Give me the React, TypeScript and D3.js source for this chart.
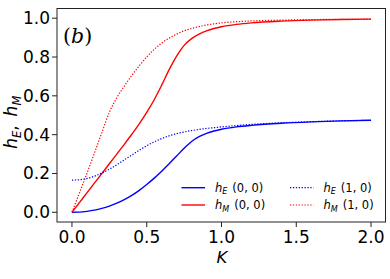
import React from "react";
import * as d3 from "d3";

const K = [0, 0.05, 0.1, 0.15, 0.2, 0.25, 0.3, 0.35, 0.4, 0.45, 0.5, 0.55, 0.6, 0.65, 0.7, 0.75, 0.8, 0.85, 0.9, 0.95, 1.0, 1.1, 1.2, 1.4, 1.6, 1.8, 2.0];
const hE00 = [0, 0.001, 0.005, 0.011, 0.02, 0.032, 0.047, 0.065, 0.087, 0.113, 0.143, 0.176, 0.212, 0.25, 0.29, 0.33, 0.365, 0.39, 0.407, 0.419, 0.428, 0.44, 0.448, 0.459, 0.466, 0.471, 0.474];
const hM00 = [0, 0.05, 0.1, 0.15, 0.2, 0.25, 0.3, 0.35, 0.402, 0.456, 0.515, 0.58, 0.655, 0.735, 0.805, 0.86, 0.895, 0.918, 0.935, 0.947, 0.956, 0.968, 0.976, 0.985, 0.99, 0.993, 0.995];
const hE10 = [0.166, 0.168, 0.174, 0.186, 0.202, 0.222, 0.245, 0.27, 0.295, 0.32, 0.343, 0.363, 0.38, 0.394, 0.405, 0.414, 0.421, 0.427, 0.432, 0.436, 0.44, 0.447, 0.453, 0.461, 0.467, 0.471, 0.474];
const hM10 = [0, 0.1, 0.2, 0.305, 0.41, 0.515, 0.59, 0.65, 0.705, 0.755, 0.8, 0.84, 0.872, 0.897, 0.918, 0.935, 0.947, 0.957, 0.965, 0.971, 0.976, 0.982, 0.986, 0.99, 0.993, 0.994, 0.995];
const xTicks = [0, 0.5, 1.0, 1.5, 2.0];
const yTicks = [0, 0.2, 0.4, 0.6, 0.8, 1.0];

const series = [
  { name: "E", label: "(0, 0)", values: hE00, color: "#0000ff", dotted: false },
  { name: "M", label: "(0, 0)", values: hM00, color: "#ff0000", dotted: false },
  { name: "E", label: "(1, 0)", values: hE10, color: "#0000ff", dotted: true },
  { name: "M", label: "(1, 0)", values: hM10, color: "#ff0000", dotted: true },
];

export default function App() {
  const W = 390, H = 279;
  const left = 57, right = 385.5, top = 8.5, bottom = 222;
  const x = d3.scaleLinear().domain([-0.1, 2.1]).range([left, right + 0.5]);
  const y = d3.scaleLinear().domain([-0.05, 1.05]).range([bottom, top]);
  const line = d3
    .line<number>()
    .x((_, i) => x(K[i]))
    .y((d) => y(d))
    .curve(d3.curveMonotoneX);
  const font = "'DejaVu Sans', sans-serif";

  const legendPos = [
    { lx: 181.5, ly: 187.7 },
    { lx: 181.5, ly: 205 },
    { lx: 290, ly: 187.7 },
    { lx: 290, ly: 205 },
  ];

  return (
    <svg width={W} height={H} style={{ position: "absolute", left: 0, top: 0 }}>
      <rect width={W} height={H} fill="#fff" />
      {series.map((s, i) => (
        <path
          key={i}
          d={line(s.values) || ""}
          fill="none"
          stroke={s.color}
          strokeWidth={s.dotted ? 1.2 : 1.4}
          strokeDasharray={s.dotted ? "1.3,1.6" : undefined}
        />
      ))}
      <rect x={left} y={top} width={right - left} height={bottom - top} fill="none" stroke="#222" strokeWidth={1} />
      {xTicks.map((t) => (
        <g key={t}>
          <line x1={x(t)} x2={x(t)} y1={bottom} y2={bottom + 5} stroke="#222" />
          <text x={x(t)} y={243} textAnchor="middle" fontFamily={font} fontSize={17}>
            {t.toFixed(1)}
          </text>
        </g>
      ))}
      {yTicks.map((t) => (
        <g key={t}>
          <line x1={left - 5} x2={left} y1={y(t)} y2={y(t)} stroke="#222" />
          <text x={50} y={y(t) + 6} textAnchor="end" fontFamily={font} fontSize={17}>
            {t.toFixed(1)}
          </text>
        </g>
      ))}
      <text x={222} y={263} textAnchor="middle" fontFamily={font} fontStyle="italic" fontSize={16.5}>
        K
      </text>
      <text
        transform={`translate(17,${(top + bottom) / 2 + 7}) rotate(-90)`}
        textAnchor="middle"
        fontFamily={font}
        fontStyle="italic"
        fontSize={17}
      >
        <tspan>h</tspan>
        <tspan fontSize={11.5} dy={3.5}>E</tspan>
        <tspan dy={-3.5} fontStyle="normal">,</tspan>
        <tspan dx={9}>h</tspan>
        <tspan fontSize={11.5} dy={3.5}>M</tspan>
      </text>
      <text x={63} y={43} fontFamily="'DejaVu Serif', serif" fontSize={20.5}>
        (<tspan fontStyle="italic">b</tspan>)
      </text>
      {series.map((s, i) => {
        const p = legendPos[i];
        return (
          <g key={"lg" + i}>
            <line
              x1={p.lx}
              x2={p.lx + 23.5}
              y1={p.ly}
              y2={p.ly}
              stroke={s.color}
              strokeWidth={s.dotted ? 1.2 : 1.4}
              strokeDasharray={s.dotted ? "1.3,1.6" : undefined}
            />
            <text x={p.lx + 33.5} y={p.ly + 4} fontFamily={font} fontSize={11.5}>
              <tspan fontStyle="italic">h</tspan>
              <tspan fontStyle="italic" fontSize={8} dy={2.5}>{s.name}</tspan>
              <tspan dy={-2.5} dx={5}>{s.label}</tspan>
            </text>
          </g>
        );
      })}
    </svg>
  );
}
